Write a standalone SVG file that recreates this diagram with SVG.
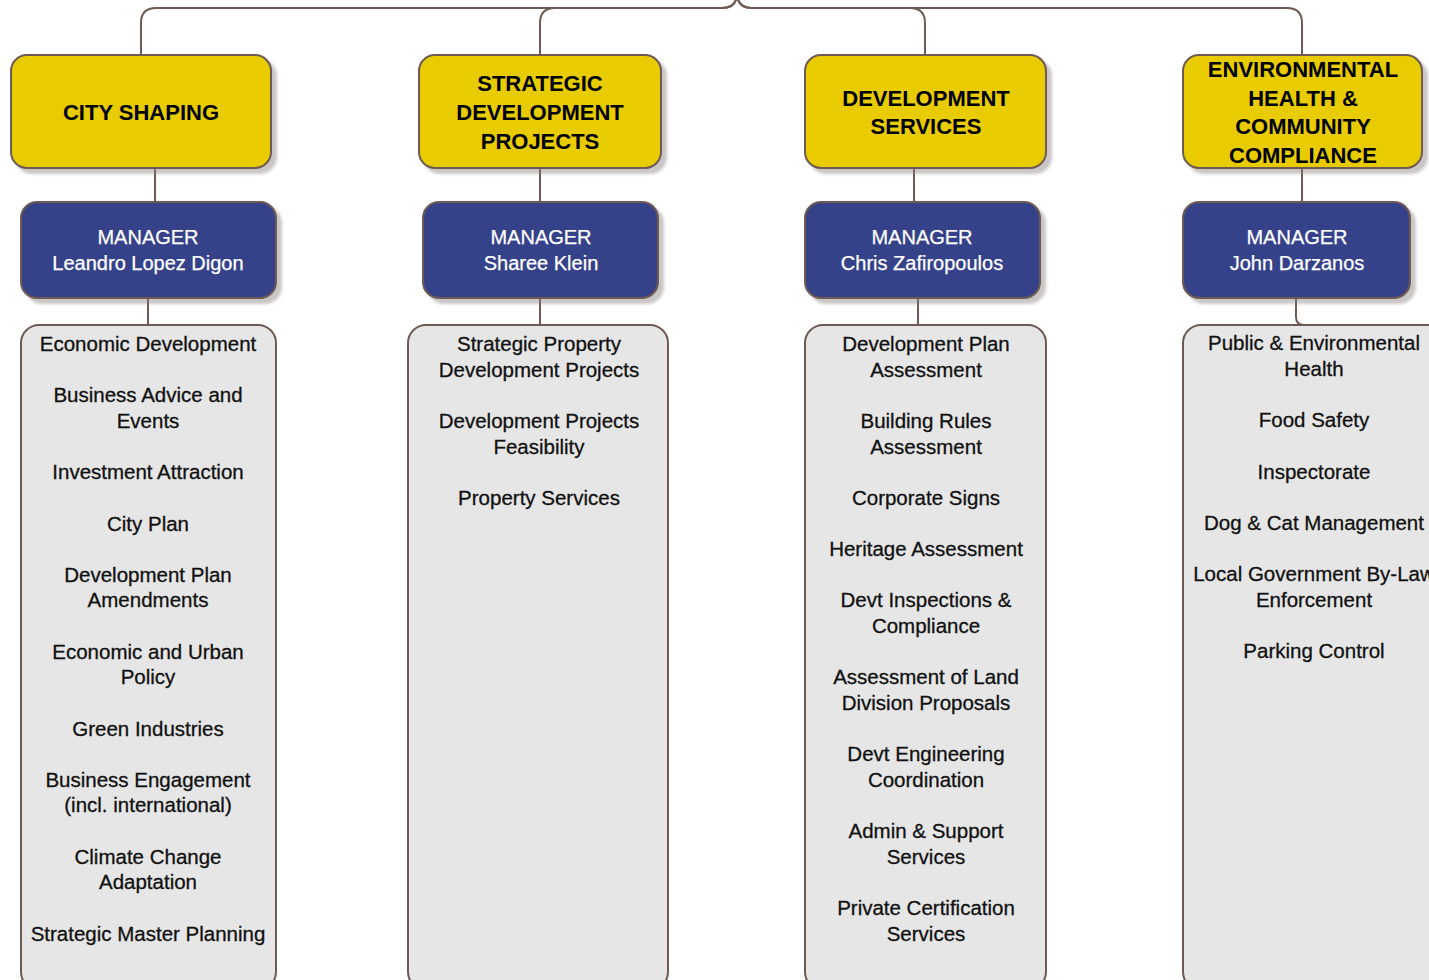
<svg xmlns="http://www.w3.org/2000/svg" width="1429" height="980" viewBox="0 0 1429 980">
<defs>
<filter id="sh" x="-10%" y="-10%" width="130%" height="140%">
<feDropShadow dx="5" dy="5" stdDeviation="1.5" flood-color="#8a8080" flood-opacity="0.45"/>
</filter>
<style>
.dept{fill:#e8cc00;stroke:#6e5a52;stroke-width:2;filter:url(#sh)}
.mgr{fill:#36438a;stroke:#6e5a52;stroke-width:2;filter:url(#sh)}
.list{fill:#e6e6e6;stroke:#6e5a52;stroke-width:2}
.conn{fill:none;stroke:#6e5a52;stroke-width:2}
.ht{font-family:"Liberation Sans",Arial,sans-serif;font-weight:bold;font-size:22px;fill:#000;text-anchor:middle}
.mt{font-family:"Liberation Sans",Arial,sans-serif;font-size:20px;fill:#fff;text-anchor:middle;stroke:#fff;stroke-width:0.25}
.lt{font-family:"Liberation Sans",Arial,sans-serif;font-size:20.5px;fill:#111;text-anchor:middle;stroke:#111;stroke-width:0.3}
</style>
</defs>
<rect width="1429" height="980" fill="#fff"/>
<g id="connectors">
<path class="conn" d="M141,55 V23 Q141,8 156,8 H722 Q737,8 737,-7"/>
<path class="conn" d="M540,55 V23 Q540,8 555,8 H722 Q737,8 737,-7"/>
<path class="conn" d="M925,55 V23 Q925,8 910,8 H752 Q737,8 737,-7"/>
<path class="conn" d="M1302,55 V23 Q1302,8 1287,8 H752 Q737,8 737,-7"/>
<path class="conn" d="M155,168 V202"/>
<path class="conn" d="M540,168 V202"/>
<path class="conn" d="M914,168 V202"/>
<path class="conn" d="M1302,168 V202"/>
<path class="conn" d="M148,298 V325"/>
<path class="conn" d="M540,298 V325"/>
<path class="conn" d="M918,298 V325"/>
<path class="conn" d="M1296,298 V317 Q1296,325 1304,325 H1314"/>
</g>
<g id="dept-city-shaping">
<rect class="dept" x="11" y="55" width="260" height="113" rx="16"/>
<text class="ht" x="141" y="120">CITY SHAPING</text>
</g>
<g id="dept-strategic">
<rect class="dept" x="419" y="55" width="242" height="113" rx="16"/>
<text class="ht" x="540" y="91">STRATEGIC</text>
<text class="ht" x="540" y="120">DEVELOPMENT</text>
<text class="ht" x="540" y="149">PROJECTS</text>
</g>
<g id="dept-devservices">
<rect class="dept" x="805" y="55" width="241" height="113" rx="16"/>
<text class="ht" x="926" y="106">DEVELOPMENT</text>
<text class="ht" x="926" y="134">SERVICES</text>
</g>
<g id="dept-environmental">
<rect class="dept" x="1183" y="55" width="239" height="113" rx="16"/>
<text class="ht" x="1303" y="77">ENVIRONMENTAL</text>
<text class="ht" x="1303" y="106">HEALTH &amp;</text>
<text class="ht" x="1303" y="134">COMMUNITY</text>
<text class="ht" x="1303" y="163">COMPLIANCE</text>
</g>
<g id="mgr-1">
<rect class="mgr" x="21" y="202" width="255" height="96" rx="16"/>
<text class="mt" x="148" y="244">MANAGER</text>
<text class="mt" x="148" y="270">Leandro Lopez Digon</text>
</g>
<g id="mgr-2">
<rect class="mgr" x="423" y="202" width="235" height="96" rx="16"/>
<text class="mt" x="541" y="244">MANAGER</text>
<text class="mt" x="541" y="270">Sharee Klein</text>
</g>
<g id="mgr-3">
<rect class="mgr" x="805" y="202" width="235" height="96" rx="16"/>
<text class="mt" x="922" y="244">MANAGER</text>
<text class="mt" x="922" y="270">Chris Zafiropoulos</text>
</g>
<g id="mgr-4">
<rect class="mgr" x="1183" y="202" width="227" height="96" rx="16"/>
<text class="mt" x="1297" y="244">MANAGER</text>
<text class="mt" x="1297" y="270">John Darzanos</text>
</g>
<g id="list-1">
<rect class="list" x="21" y="325" width="255" height="665" rx="18"/>
<text class="lt" x="148" y="351">Economic Development</text>
<text class="lt" x="148" y="402">Business Advice and</text>
<text class="lt" x="148" y="428">Events</text>
<text class="lt" x="148" y="479">Investment Attraction</text>
<text class="lt" x="148" y="531">City Plan</text>
<text class="lt" x="148" y="582">Development Plan</text>
<text class="lt" x="148" y="607">Amendments</text>
<text class="lt" x="148" y="659">Economic and Urban</text>
<text class="lt" x="148" y="684">Policy</text>
<text class="lt" x="148" y="736">Green Industries</text>
<text class="lt" x="148" y="787">Business Engagement</text>
<text class="lt" x="148" y="812">(incl. international)</text>
<text class="lt" x="148" y="864">Climate Change</text>
<text class="lt" x="148" y="889">Adaptation</text>
<text class="lt" x="148" y="941">Strategic Master Planning</text>
</g>
<g id="list-2">
<rect class="list" x="408" y="325" width="260" height="665" rx="18"/>
<text class="lt" x="539" y="351">Strategic Property</text>
<text class="lt" x="539" y="377">Development Projects</text>
<text class="lt" x="539" y="428">Development Projects</text>
<text class="lt" x="539" y="454">Feasibility</text>
<text class="lt" x="539" y="505">Property Services</text>
</g>
<g id="list-3">
<rect class="list" x="805" y="325" width="241" height="665" rx="18"/>
<text class="lt" x="926" y="351">Development Plan</text>
<text class="lt" x="926" y="377">Assessment</text>
<text class="lt" x="926" y="428">Building Rules</text>
<text class="lt" x="926" y="454">Assessment</text>
<text class="lt" x="926" y="505">Corporate Signs</text>
<text class="lt" x="926" y="556">Heritage Assessment</text>
<text class="lt" x="926" y="607">Devt Inspections &amp;</text>
<text class="lt" x="926" y="633">Compliance</text>
<text class="lt" x="926" y="684">Assessment of Land</text>
<text class="lt" x="926" y="710">Division Proposals</text>
<text class="lt" x="926" y="761">Devt Engineering</text>
<text class="lt" x="926" y="787">Coordination</text>
<text class="lt" x="926" y="838">Admin &amp; Support</text>
<text class="lt" x="926" y="864">Services</text>
<text class="lt" x="926" y="915">Private Certification</text>
<text class="lt" x="926" y="941">Services</text>
</g>
<g id="list-4">
<rect class="list" x="1183" y="325" width="262" height="665" rx="18"/>
<text class="lt" x="1314" y="350">Public &amp; Environmental</text>
<text class="lt" x="1314" y="376">Health</text>
<text class="lt" x="1314" y="427">Food Safety</text>
<text class="lt" x="1314" y="479">Inspectorate</text>
<text class="lt" x="1314" y="530">Dog &amp; Cat Management</text>
<text class="lt" x="1314" y="581">Local Government By-Law</text>
<text class="lt" x="1314" y="607">Enforcement</text>
<text class="lt" x="1314" y="658">Parking Control</text>
</g>
</svg>
